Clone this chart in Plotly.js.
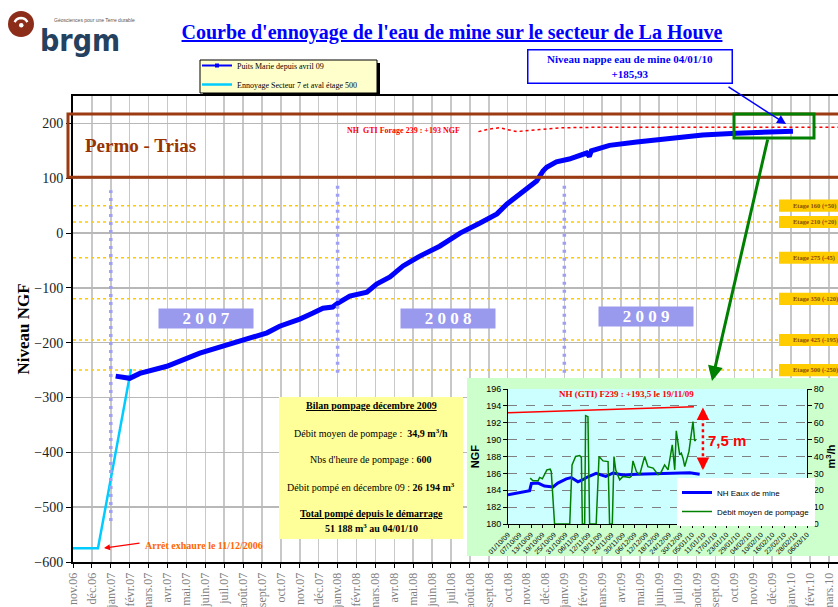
<!DOCTYPE html>
<html><head><meta charset="utf-8">
<script src="https://cdn.plot.ly/plotly-3.0.1.min.js"></script>
<style>html,body{margin:0;padding:0;background:#fff;} #chart{width:838px;height:607px;}</style>
</head><body><div id="chart"></div>
<script>
// ================= DATA =================
const monthLabels = ['nov.06','déc.06','janv.07','févr.07','mars.07','avr.07','mai.07','juin.07','juil.07','août.07','sept.07','oct.07',
  'nov.07','déc.07','janv.08','févr.08','mars.08','avr.08','mai.08','juin.08','juil.08','août.08','sept.08','oct.08',
  'nov.08','déc.08','janv.09','févr.09','mars.09','avr.09','mai.09','juin.09','juil.09','août.09','sept.09','oct.09',
  'nov.09','déc.09','janv.10','févr.10','mars.10'];

// Puits Marie (niveau NGF)
const puitsDates = ['2007-01-09','2007-02-01','2007-02-16','2007-03-31','2007-05-23','2007-07-30','2007-09-09','2007-09-29','2007-11-01','2007-11-22',
  '2007-12-08','2007-12-24','2008-01-01','2008-01-21','2008-02-17','2008-03-03','2008-03-25','2008-04-15','2008-05-12','2008-06-13',
  '2008-07-16','2008-08-17','2008-09-14','2008-09-30','2008-10-21','2008-11-17','2008-11-27','2008-12-03','2008-12-19','2009-01-09',
  '2009-02-06','2009-02-10','2009-02-13','2009-02-21','2009-03-13','2009-04-26','2009-06-19','2009-08-11','2009-10-04','2009-11-28',
  '2010-01-04'];
const puitsNGF = [-261,-265,-256,-243,-219,-197,-182,-170,-157,-146,
  -137,-135,-128,-115,-108,-93,-80,-60,-42,-24,
  0,18,35,53,71,95,113,120,130,135,
  146,140,150,153,160,166,173,179,182,184,
  185.93];

// Ennoyage Secteur 7 et aval étage 500
const ennoyageDates = ['2006-11-01','2006-12-11','2007-02-03'];
const ennoyageNGF = [-575,-575,-248];

// NH GTI Forage 239
const gtiDates = ['2008-08-15','2008-09-03','2008-09-18','2008-10-05','2008-10-16','2008-11-22','2008-12-24','2009-02-27','2010-03-31'];
const gtiNGF = [185,190,192,188,185,189,192,193,193];

// Etages
const etageNames = ['Etage 160 (+50)','Etage 210 (+20)','Etage 275 (-45)','Etage 350 (-120)','Etage 425 (-195)','Etage 500 (-250)'];
const etageNGF = [50,20,-45,-120,-195,-250];

// Year markers (January of each year)
const yearNames = ['2007','2008','2009'];
const yearJanLabels = ['janv.07','janv.08','janv.09'];

// Inset : NH eaux de mine (NGF)
const nhDates = ['2009-10-01','2009-10-10 17:00','2009-10-12 07:00','2009-10-13 05:00','2009-10-16 17:00','2009-10-20','2009-10-24 12:00','2009-10-27',
  '2009-10-31 10:00','2009-11-03','2009-11-06 12:00','2009-11-09','2009-11-11 17:00','2009-11-16','2009-11-21','2009-11-24 19:00',
  '2009-11-30','2009-12-07','2009-12-19','2010-01-02','2010-01-03 19:00','2010-01-09'];
const nhNGF = [183.45,183.9,183.95,184.8,184.85,184.5,184.4,184.85,185.35,185.5,185.0,185.25,185.6,186.0,185.65,186.05,185.8,185.9,185.95,186.0,186.07,185.9];

// Inset : Débit moyen de pompage (m3/h)
const debitDates = ['2009-10-12 14:00','2009-10-14','2009-10-16 17:00','2009-10-17 12:00','2009-10-18 22:00','2009-10-20','2009-10-21 07:00','2009-10-23',
  '2009-10-23 14:00','2009-10-25 07:00','2009-11-02 05:00','2009-11-03 10:00','2009-11-05 07:00','2009-11-07 10:00','2009-11-08 07:00','2009-11-08 19:00',
  '2009-11-10','2009-11-10 12:00','2009-11-11 17:00','2009-11-12 14:00','2009-11-16','2009-11-17 12:00','2009-11-19 14:00','2009-11-22 05:00',
  '2009-11-23','2009-11-24 10:00','2009-11-25 07:00','2009-11-26 05:00','2009-11-28 07:00','2009-11-30','2009-12-03 12:00','2009-12-04 07:00',
  '2009-12-05 05:00','2009-12-07','2009-12-08 17:00','2009-12-11 07:00','2009-12-13','2009-12-15 17:00','2009-12-18 07:00','2009-12-20',
  '2009-12-21 17:00','2009-12-23 12:00','2009-12-25 17:00','2009-12-27','2009-12-27 19:00','2009-12-29 14:00','2009-12-30 10:00','2009-12-31 07:00',
  '2010-01-01 05:00','2010-01-03 10:00','2010-01-05 12:00','2010-01-06 10:00','2010-01-07'];
const debitM3h = [27.2,25.6,25.6,27.6,26.8,29.2,32.1,32.5,
  31,0,0,35,40,40.6,39.4,0,
  0,64.2,63.6,0,0,40,37.4,37,
  0,0,40,32,26.2,28.2,27.6,28.2,
  37.4,31,29.2,40,34,33.1,29.2,31,
  35,32.1,46.9,32.1,55.2,41,42,39,
  34,43,60.7,49.3,49.8];

// Inset : NH (GTI) F239
const gtiInsetDates = ['2009-10-01','2010-01-06'];
const gtiInsetNGF = [193.2,193.9];

// ================= HELPERS =================
function mIndex(s){
  const p = s.split(/[- :]/).map(Number);
  const dim = new Date(p[0], p[1], 0).getDate();
  return (p[0]-2006)*12 + (p[1]-11) + (p[2]-1)/dim;
}
const SERIF = 'Liberation Serif, Times New Roman, serif';
const SANS = 'Liberation Sans, Arial, sans-serif';
const L = 73, R = 838, T = 96, B = 562;
const px = x => (x - L) / (R - L);
const py = y => (B - y) / (B - T);
const XMAX = 40.48;

// ================= TRACES =================
const traces = [
  {x: ennoyageDates.map(mIndex), y: ennoyageNGF, name:'Ennoyage Secteur 7 et aval étage 500', mode:'lines', line:{color:'#00ccff', width:2.5}, legendrank:2},
  {x: puitsDates.map(mIndex), y: puitsNGF, mode:'lines', line:{color:'#0000ff', width:5}, showlegend:false, legendgroup:'pm', hoverinfo:'skip'},
  {x:[null], y:[null], name:'Puits Marie depuis avril 09', mode:'lines+markers', line:{color:'#0000ff', width:2}, marker:{symbol:'square', size:4, color:'#0000ff'}, legendgroup:'pm', legendrank:1},
  {x: gtiDates.map(mIndex), y: gtiNGF, mode:'lines', line:{color:'#ff0000', width:1.5, dash:'dot'}, showlegend:false},
  {x:[null], y:[null], xaxis:'x2', yaxis:'y2', showlegend:false, hoverinfo:'skip'},
  {x: gtiInsetDates, y: gtiInsetNGF, xaxis:'x3', yaxis:'y3', mode:'lines', line:{color:'#ff0000', width:1.5}, showlegend:false},
  {x: nhDates, y: nhNGF, xaxis:'x3', yaxis:'y3', mode:'lines', name:'NH Eaux de mine', legend:'legend2', line:{color:'#0000ff', width:3}},
  {x: debitDates, y: debitM3h, xaxis:'x3', yaxis:'y4', mode:'lines', name:'Débit moyen de pompage', legend:'legend2', line:{color:'#008000', width:1.5}}
];

// ================= SHAPES =================
const shapes = [];
etageNGF.forEach(v => shapes.push({type:'line', xref:'x', yref:'y', x0:0, x1:XMAX, y0:v, y1:v, layer:'between', line:{color:'#ffcc00', width:1.5, dash:'3px,3px'}}));
etageNGF.forEach(v => shapes.push({type:'rect', xref:'paper', yref:'y', x0:px(779), x1:px(860), y0:v-11, y1:v+11, layer:'above', fillcolor:'#ffcc00', line:{width:0}}));
shapes.push({type:'rect', xref:'paper', yref:'y', x0:px(68), x1:px(860), y0:102, y1:217, layer:'above', line:{color:'#9c3a12', width:3}});
yearJanLabels.forEach((lab, i) => {
  const m = monthLabels.indexOf(lab);
  shapes.push({type:'line', xref:'x', yref:'y', x0:m, x1:m, y0: i===0 ? -525 : -255, y1: i===0 ? 78 : 87, layer:'above', line:{color:'#9f9ff5', width:3.5, dash:'3px,5px'}});
});
shapes.push({type:'rect', xref:'paper', yref:'paper', x0:px(734), x1:px(814), y0:py(138), y1:py(114), layer:'above', line:{color:'#008000', width:3}});
shapes.push({type:'rect', xref:'paper', yref:'paper', x0:px(279), x1:px(463), y0:py(539), y1:py(397), layer:'above', fillcolor:'#ffff99', line:{width:0}});
shapes.push({type:'rect', xref:'paper', yref:'paper', x0:px(203), x1:px(380), y0:py(96), y1:py(63), layer:'above', fillcolor:'#000', line:{width:0}});
shapes.push({type:'rect', xref:'paper', yref:'paper', x0:px(200), x1:px(377), y0:py(93), y1:py(60), layer:'above', fillcolor:'#ffffcc', line:{color:'#000', width:1}});
shapes.push({type:'circle', xref:'paper', yref:'paper', x0:px(8), x1:px(34), y0:py(37), y1:py(11), layer:'above', fillcolor:'#8c2d19', line:{width:0}});
(function(){
  const pts = [];
  for (let a = 25; a <= 155; a += 13) {
    const r = a*Math.PI/180;
    pts.push([21 + 7*Math.cos(r), 25 - 7*Math.sin(r)]);
  }
  shapes.push({type:'path', xref:'paper', yref:'paper', layer:'above', line:{color:'#fff', width:2.5},
    path:'M ' + pts.map(p => px(p[0]) + ',' + py(p[1])).join(' L ')});
  shapes.push({type:'circle', xref:'paper', yref:'paper', layer:'above', x0:px(19), x1:px(23.5), y0:py(27.5), y1:py(23), fillcolor:'#fff', line:{width:0}});
})();
shapes.push({type:'rect', xref:'x2', yref:'y2', x0:0, x1:1, y0:0, y1:1, layer:'below', fillcolor:'#ccffcc', line:{width:0}});
shapes.push({type:'rect', xref:'x3', yref:'y3', x0:'2009-10-01', x1:'2010-03-06', y0:180, y1:196, layer:'below', fillcolor:'#ccffff', line:{width:0}});
shapes.push({type:'line', xref:'x3', yref:'y3', x0:'2010-01-10 17:00', x1:'2010-01-10 17:00', y0:186.6, y1:193.6, layer:'above', line:{color:'#ff0000', width:2.5, dash:'dot'}});

// ================= ANNOTATIONS =================
const ann = [];
const A = o => ann.push(Object.assign({xref:'paper', yref:'paper', showarrow:false, xanchor:'center', yanchor:'middle'}, o));
A({x:px(83), y:py(145), xanchor:'left', text:'<b>Permo - Trias</b>', font:{family:SERIF, size:19, color:'#993300'}});
A({x:px(403), y:py(130), text:'<b>NH  GTI Forage 239 : +193 NGF</b>', font:{family:SERIF, size:8, color:'#ff0000'}});
etageNames.forEach((t, i) => A({x:px(791), yref:'y', y:etageNGF[i], xanchor:'left', text:'<b>'+t+'</b>', font:{family:SERIF, size:6.5, color:'#8b4a00'}}));
const yearPos = [[206,318.5],[447.5,318],[646,316]];
yearNames.forEach((t, i) => A({x:px(yearPos[i][0]), y:py(yearPos[i][1]), text:'<b>'+t.split('').join(' ')+'</b>',
  font:{family:SERIF, size:17, color:'#ffffff'}, bgcolor:'#9999ee', width:92, height:17, borderpad:1}));
A({x:px(629.5), y:py(67), text:'<b>Niveau nappe eau de mine 04/01/10<br>+185,93</b>', font:{family:SERIF, size:11, color:'#0000ff'},
  bgcolor:'#ffffff', bordercolor:'#0000ff', borderwidth:1.5, borderpad:2, width:199, height:28});
A({x:px(143), y:py(545), xanchor:'left', text:'<b>Arrêt exhaure le 11/12/2006</b>', font:{family:SERIF, size:10, color:'#ff6600'}});
A({x:px(104), y:py(548), text:'', showarrow:true, ax:37, ay:-5, arrowhead:2, arrowsize:1, arrowwidth:1.2, arrowcolor:'#ff0000'});
const bx = px(371);
A({x:bx, y:py(405), text:'<b><u>Bilan pompage décembre 2009</u></b>', font:{family:SERIF, size:10, color:'#000'}});
A({x:bx, y:py(433), text:'Débit moyen de pompage :  <b>34,9 m<sup>3</sup>/h</b>', font:{family:SERIF, size:10, color:'#000'}});
A({x:bx, y:py(459), text:"Nbs d'heure de pompage : <b>600</b>", font:{family:SERIF, size:10, color:'#000'}});
A({x:bx, y:py(487), text:'Débit pompé en décembre 09 : <b>26 194 m<sup>3</sup></b>', font:{family:SERIF, size:10, color:'#000'}});
A({x:bx, y:py(513), text:'<b><u>Total pompé depuis le démarrage</u></b>', font:{family:SERIF, size:10, color:'#000'}});
A({x:bx, y:py(528), text:'<b>51 188 m<sup>3</sup> au 04/01/10</b>', font:{family:SERIF, size:10, color:'#000'}});
A({x:px(38), y:py(41), xanchor:'left', text:'<b>brgm</b>', font:{family:'Liberation Sans Narrow, DejaVu Sans Condensed, Liberation Sans, sans-serif', size:30, color:'#24425f'}});
A({x:px(52), y:py(20), xanchor:'left', text:'Géosciences pour une Terre durable', font:{family:SANS, size:5, color:'#555'}});
A({x:px(712), y:py(381), text:'', showarrow:true, ax:56, ay:-243, arrowhead:2, arrowsize:1, arrowwidth:3, arrowcolor:'#008000'});
A({x:px(786), y:py(124), text:'', showarrow:true, ax:-59, ay:-38, arrowhead:2, arrowsize:1.2, arrowwidth:1.5, arrowcolor:'#0000ff'});
const I = o => ann.push(Object.assign({xref:'x3', yref:'y3', showarrow:false, xanchor:'center', yanchor:'middle'}, o));
I({x:'2009-12-02', y:195.4, text:'<b>NH (GTI) F239 : +193,5 le 19/11/09</b>', font:{family:SERIF, size:9, color:'#ff0000'}});
I({x:'2010-01-23', y:189.85, text:'<b>7,5 m</b>', font:{family:SANS, size:15, color:'#ff0000'}});
I({x:'2010-01-10 17:00', y:193.8, text:'', showarrow:true, ax:0, ay:8, arrowhead:2, arrowsize:1, arrowwidth:2.5, arrowcolor:'#ff0000'});
I({x:'2010-01-10 17:00', y:186.4, text:'', showarrow:true, ax:0, ay:-8, arrowhead:2, arrowsize:1, arrowwidth:2.5, arrowcolor:'#ff0000'});

// ================= LAYOUT =================
const layout = {
  width:838, height:607,
  margin:{l:L, r:0, t:T, b:607-B, pad:0},
  paper_bgcolor:'#ffffff', plot_bgcolor:'#ffffff',
  title:{text:"<b><u>Courbe d'ennoyage de l'eau de mine sur le secteur de La Houve</u></b>", font:{family:SERIF, size:20, color:'#0000ff'},
    x:452/838, xanchor:'center', y:1-32/607, yanchor:'middle'},
  showlegend:true,
  legend:{x:px(197), y:py(51), xanchor:'left', yanchor:'top', bgcolor:'rgba(0,0,0,0)', borderwidth:0,
    font:{family:SERIF, size:8, color:'#000'}, itemwidth:30, tracegroupgap:0},
  legend2:{x:px(677), y:py(478), xanchor:'left', yanchor:'top', bgcolor:'#ffffff', borderwidth:0,
    font:{family:SANS, size:8, color:'#000'}, itemwidth:30},
  xaxis:{domain:[0,1], anchor:'y', range:[0, XMAX], tickmode:'array', tickvals:monthLabels.map((_, i) => i), ticktext:monthLabels,
    tickangle:-90, tickfont:{family:SERIF, size:12, color:'#7f7f7f'}, showgrid:true, gridcolor:'#c8c8c8', gridwidth:1.5,
    showline:true, mirror:true, linecolor:'#000', linewidth:2, ticks:'outside', ticklen:4, tickcolor:'#000', zeroline:false, fixedrange:true},
  yaxis:{domain:[0,1], anchor:'x', range:[-600,250], tick0:0, dtick:100, tickfont:{family:SERIF, size:14, color:'#222'},
    showgrid:true, gridcolor:'#b8b8b8', gridwidth:1.5, showline:true, linecolor:'#000', linewidth:2, ticks:'outside', ticklen:5, tickcolor:'#000',
    zeroline:false, fixedrange:true, title:{text:'<b>Niveau NGF</b>', font:{family:SERIF, size:17, color:'#000'}, standoff:0}},
  xaxis2:{domain:[px(467), 1], anchor:'y2', range:[0,1], visible:false, fixedrange:true},
  yaxis2:{domain:[py(556), py(378)], anchor:'x2', range:[0,1], visible:false, fixedrange:true},
  xaxis3:{domain:[px(508), px(807)], anchor:'y3', type:'date', range:['2009-10-01','2010-03-06'], tickmode:'linear', tick0:'2009-10-01',
    dtick:6*86400000, tickformat:'%d/%m/%y', tickangle:-45, tickfont:{family:SANS, size:7, color:'#000'}, showgrid:false,
    showline:true, linecolor:'#000', linewidth:1, ticks:'outside', ticklen:3, tickcolor:'#000', fixedrange:true},
  yaxis3:{domain:[py(524), py(389)], anchor:'x3', range:[180,196], dtick:2, tickfont:{family:SANS, size:9, color:'#000'},
    showgrid:true, gridcolor:'#808080', griddash:'dash', gridwidth:1.2, showline:true, linecolor:'#000', linewidth:1, ticks:'outside',
    ticklen:4, tickcolor:'#000', zeroline:false, fixedrange:true, title:{text:'<b>NGF</b>', font:{family:SANS, size:11, color:'#000'}, standoff:4}},
  yaxis4:{overlaying:'y3', side:'right', anchor:'x3', range:[0,80], dtick:10, tickfont:{family:SANS, size:9, color:'#000'}, showgrid:false,
    showline:true, linecolor:'#000', linewidth:1, ticks:'outside', ticklen:4, tickcolor:'#000', zeroline:false, fixedrange:true,
    title:{text:'<b>m<sup>3</sup>/h</b>', font:{family:SANS, size:11, color:'#000'}, standoff:2}},
  shapes:shapes,
  annotations:ann,
  hovermode:false
};

Plotly.newPlot('chart', traces, layout, {displayModeBar:false, staticPlot:true});
</script>
</body></html>
